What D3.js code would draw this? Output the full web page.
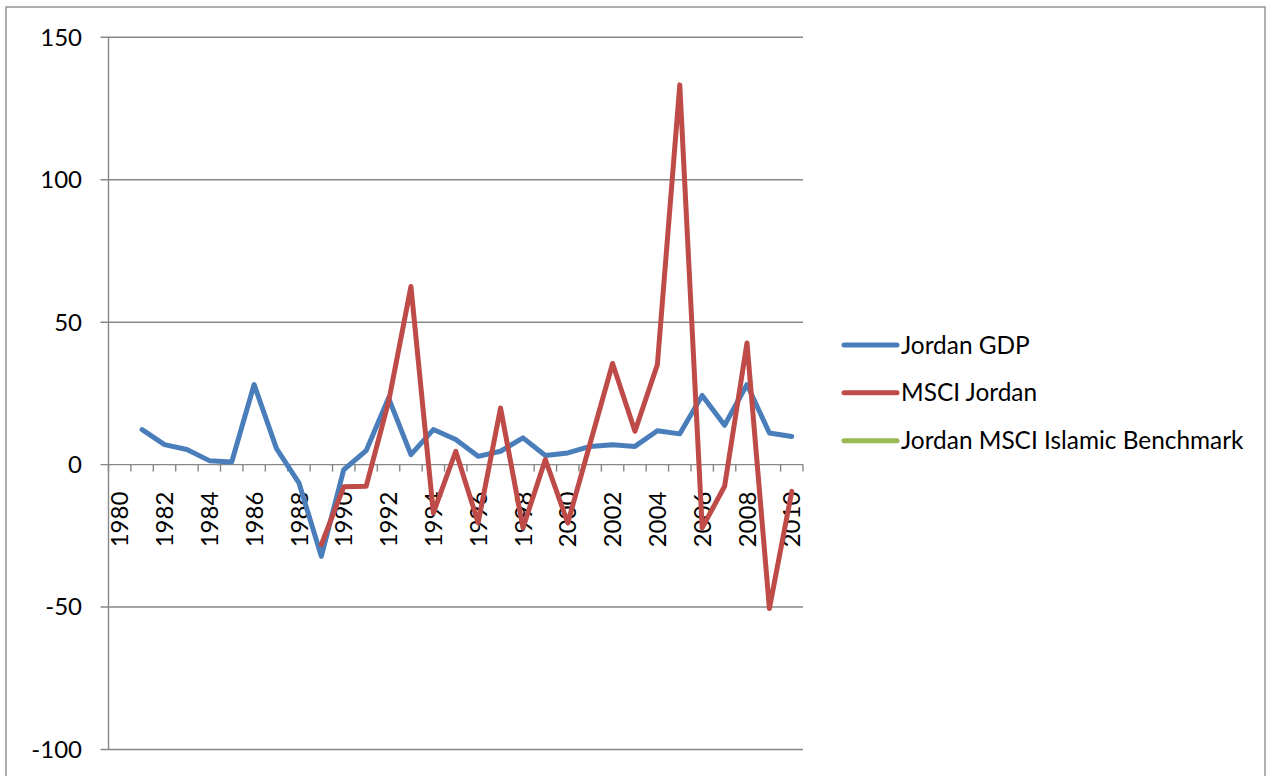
<!DOCTYPE html>
<html>
<head>
<meta charset="utf-8">
<script src="https://cdn.jsdelivr.net/npm/d3@7/dist/d3.min.js"></script>
<style>
  html, body { margin: 0; padding: 0; background: #fff; }
  svg { display: block; }
  text { font-family: Lato, "Liberation Sans", sans-serif; fill: #000; }
</style>
</head>
<body>
<svg id="chart" width="1276" height="776"></svg>
<script>
// Annual growth figures (%), 1980–2010
const years = d3.range(1980, 2011);
const jordanGDP = [null, 12.3, 7.0, 5.3, 1.4, 0.9, 28.1, 5.6, -6.4, -32.2,
  -1.8, 4.9, 23.4, 3.5, 12.3, 8.8, 2.9, 4.7, 9.4, 3.2,
  4.1, 6.4, 7.0, 6.4, 11.9, 10.8, 24.3, 13.8, 28.1, 11.1, 9.9];
const msciJordan = [null, null, null, null, null, null, null, null, null, -28.1,
  -7.8, -7.6, 22, 62.5, -17, 4.7, -20.4, 19.9, -22.2, 1.8,
  -20.5, 7.5, 35.5, 11.7, 35.1, 133.3, -22.2, -7.6, 42.7, -50.5, -9.4];
const islamicBenchmark = years.map(() => null); // no observations in this period
const yTicks = [-100, -50, 0, 50, 100, 150];
const xLabels = years.filter(y => y % 2 === 0);

const series = [
  { name: "Jordan GDP", values: jordanGDP, color: "#4A7EBB" },
  { name: "MSCI Jordan", values: msciJordan, color: "#BE4B48" },
  { name: "Jordan MSCI Islamic Benchmark", values: islamicBenchmark, color: "#98B954" }
];

const svg = d3.select("#chart");
const plot = { left: 108.5, right: 803, top: 37.3, bottom: 749.5 };

const x = d3.scaleBand().domain(years).range([plot.left, plot.right]).paddingInner(0).paddingOuter(0);
const y = d3.scaleLinear().domain([-100, 150]).range([plot.bottom, plot.top]);
const cx = yr => x(yr) + x.bandwidth() / 2;

// outer frame
svg.append("rect")
  .attr("x", 6).attr("y", 7).attr("width", 1259).attr("height", 780)
  .attr("fill", "none").attr("stroke", "#868686").attr("stroke-width", 1.3);

const gridColor = "#878787";

// horizontal gridlines with short left ticks
svg.append("g").selectAll("line").data(yTicks).join("line")
  .attr("x1", plot.left - 8).attr("x2", plot.right)
  .attr("y1", d => y(d)).attr("y2", d => y(d))
  .attr("stroke", gridColor).attr("stroke-width", 1.4);

// vertical axis line
svg.append("line")
  .attr("x1", plot.left).attr("x2", plot.left)
  .attr("y1", y(150)).attr("y2", y(-100))
  .attr("stroke", gridColor).attr("stroke-width", 1.4);

// category tick marks below the zero line
const boundaries = years.map(yr => x(yr)).concat([plot.right]);
svg.append("g").selectAll("line").data(boundaries).join("line")
  .attr("x1", d => d).attr("x2", d => d)
  .attr("y1", y(0)).attr("y2", y(0) + 7)
  .attr("stroke", gridColor).attr("stroke-width", 1.4);

// y tick labels
svg.append("g").selectAll("text").data(yTicks).join("text")
  .attr("x", 82).attr("y", d => y(d))
  .attr("dy", "0.35em")
  .attr("text-anchor", "end")
  .style("font-size", "24px")
  .text(d => d);

// rotated year labels
svg.append("g").selectAll("text").data(xLabels).join("text")
  .attr("transform", d => `translate(${cx(d)},${y(0) + 27}) rotate(-90)`)
  .attr("dy", "0.36em")
  .attr("text-anchor", "end")
  .style("font-size", "24px")
  .text(d => d);

// series lines
const line = d3.line()
  .defined(d => d.v != null)
  .x(d => cx(d.year))
  .y(d => y(d.v));

svg.append("g").selectAll("path").data(series).join("path")
  .attr("d", s => line(years.map((yr, i) => ({ year: yr, v: s.values[i] }))))
  .attr("fill", "none")
  .attr("stroke", s => s.color)
  .attr("stroke-width", 5)
  .attr("stroke-linejoin", "round")
  .attr("stroke-linecap", "round");

// legend
const legendY = [345, 392.7, 440.7];
const legend = svg.append("g").selectAll("g").data(series).join("g")
  .attr("transform", (d, i) => `translate(0,${legendY[i]})`);
legend.append("line")
  .attr("x1", 844).attr("x2", 897).attr("y1", 0).attr("y2", 0)
  .attr("stroke", d => d.color).attr("stroke-width", 5).attr("stroke-linecap", "round");
legend.append("text")
  .attr("x", 901).attr("y", 0).attr("dy", "0.35em")
  .style("font-size", "24.4px")
  .text(d => d.name);
</script>
</body>
</html>
